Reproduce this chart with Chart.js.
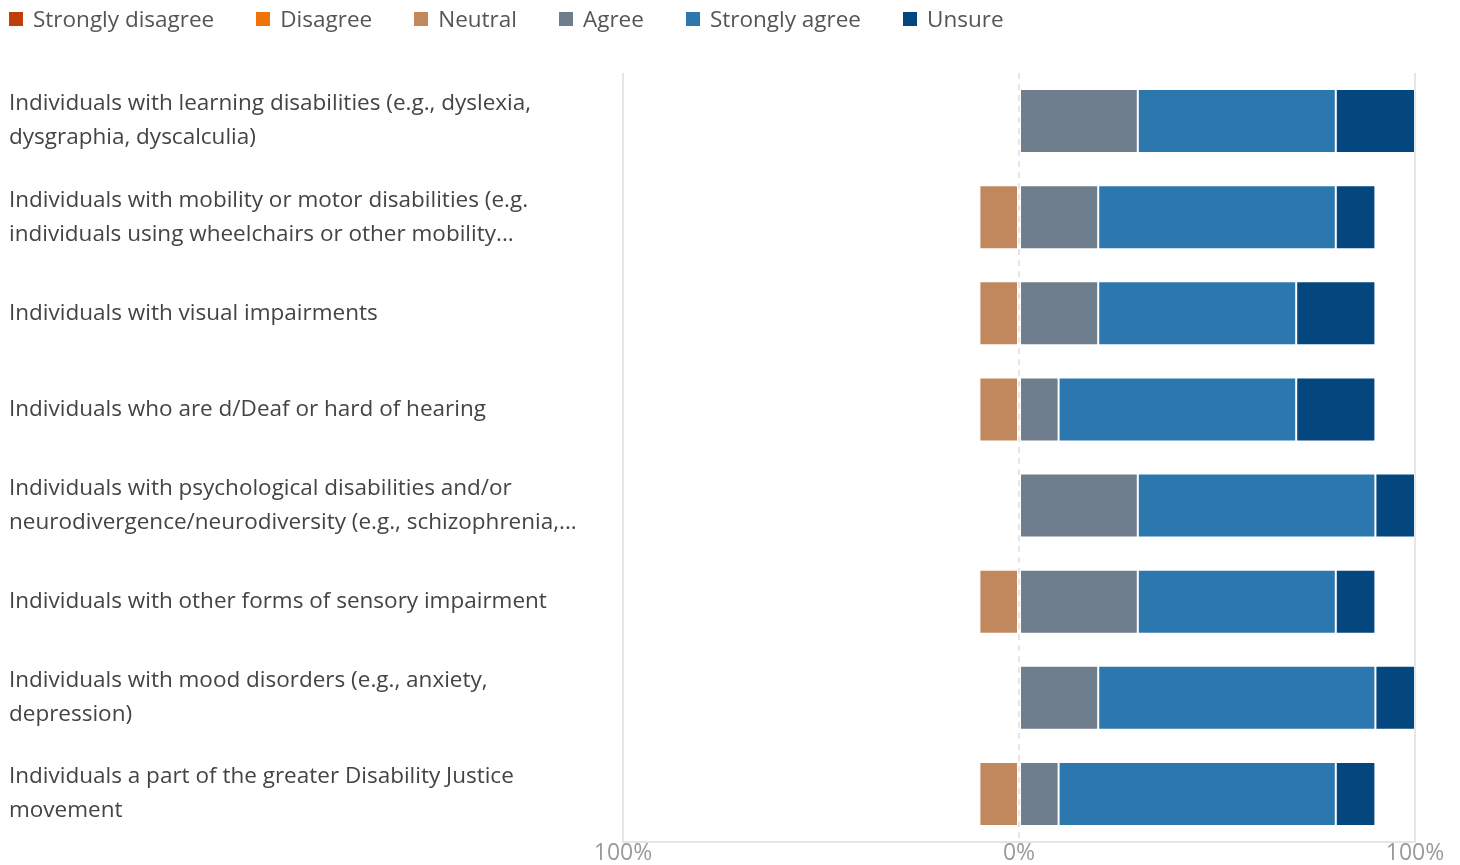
<!DOCTYPE html>
<html>
<head>
<meta charset="utf-8">
<script src="https://cdn.jsdelivr.net/npm/chart.js@4"></script>
<style>
  html, body { margin: 0; padding: 0; background: #fff; }
  #wrap { position: relative; width: 1460px; height: 865px; }
  #legend {
    position: absolute; left: 9px; top: 4px; display: flex;
    font-family: "Open Sans", sans-serif; font-size: 22.5px; color: #555;
  }
  #legend span.item { display: flex; align-items: center; margin-right: 42px; line-height: 30px; }
  #legend span.box { width: 14px; height: 14px; margin-right: 10px; display: inline-block; }
</style>
</head>
<body>
<div id="wrap">
  <div id="legend"></div>
  <canvas id="likert" width="1460" height="865"></canvas>
</div>
<script>
// Survey statements, wrapped as shown on the axis
const categories = [
  ['Individuals with learning disabilities (e.g., dyslexia,', 'dysgraphia, dyscalculia)'],
  ['Individuals with mobility or motor disabilities (e.g.', 'individuals using wheelchairs or other mobility...'],
  'Individuals with visual impairments',
  'Individuals who are d/Deaf or hard of hearing',
  ['Individuals with psychological disabilities and/or', 'neurodivergence/neurodiversity (e.g., schizophrenia,...'],
  'Individuals with other forms of sensory impairment',
  ['Individuals with mood disorders (e.g., anxiety,', 'depression)'],
  ['Individuals a part of the greater Disability Justice', 'movement']
];

// Percent of responses per statement
const stronglyDisagree = [0, 0, 0, 0, 0, 0, 0, 0];
const disagree         = [0, 0, 0, 0, 0, 0, 0, 0];
const neutral          = [0, 10, 10, 10, 0, 10, 0, 10];
const agree            = [30, 20, 20, 10, 30, 30, 20, 10];
const stronglyAgree    = [50, 60, 50, 60, 60, 50, 70, 70];
const unsure           = [20, 10, 20, 20, 10, 10, 10, 10];

const xTicks = [-100, 0, 100];

const colors = {
  stronglyDisagree: '#bf3f0b',
  disagree: '#ee7309',
  neutral: '#c0885c',
  agree: '#6f7e8d',
  stronglyAgree: '#2c78ae',
  unsure: '#03477e'
};

// negative side grows left from zero, positive side grows right
const series = [
  { label: 'Strongly disagree', data: stronglyDisagree, color: colors.stronglyDisagree, neg: true, order: 3 },
  { label: 'Disagree', data: disagree, color: colors.disagree, neg: true, order: 2 },
  { label: 'Neutral', data: neutral, color: colors.neutral, neg: true, order: 1 },
  { label: 'Agree', data: agree, color: colors.agree, neg: false, order: 4 },
  { label: 'Strongly agree', data: stronglyAgree, color: colors.stronglyAgree, neg: false, order: 5 },
  { label: 'Unsure', data: unsure, color: colors.unsure, neg: false, order: 6 }
];

// legend
const legendEl = document.getElementById('legend');
series.forEach(s => {
  const item = document.createElement('span');
  item.className = 'item';
  const box = document.createElement('span');
  box.className = 'box';
  box.style.background = s.color;
  item.appendChild(box);
  item.appendChild(document.createTextNode(s.label));
  legendEl.appendChild(item);
});

const datasets = series.map(s => ({
  label: s.label,
  data: s.data.map(v => s.neg ? -v : v),
  backgroundColor: s.color,
  borderColor: 'rgba(255,255,255,0.25)',
  borderWidth: 1,
  borderSkipped: false,
  order: s.order,
  barPercentage: 0.667,
  categoryPercentage: 1
}));

new Chart(document.getElementById('likert'), {
  type: 'bar',
  data: { labels: categories, datasets: datasets },
  options: {
    indexAxis: 'y',
    responsive: false,
    animation: false,
    layout: { padding: { left: 9, right: 45, top: 73, bottom: 0 } },
    plugins: {
      legend: { display: false },
      tooltip: { enabled: false }
    },
    scales: {
      x: {
        stacked: true,
        min: -100,
        max: 100,
        afterBuildTicks: axis => { axis.ticks = xTicks.map(v => ({ value: v })); },
        afterFit: axis => { axis.height = 23; },
        grid: {
          color: '#e6e6e6',
          lineWidth: 2,
          tickLength: 0
        },
        border: {
          display: true,
          color: '#e6e6e6',
          width: 2,
          dash: ctx => (ctx.tick && ctx.tick.value === 0) ? [6, 5] : []
        },
        ticks: {
          padding: 0,
          color: '#9a9a9a',
          font: { family: '"Open Sans", sans-serif', size: 23, lineHeight: 1 },
          callback: v => Math.abs(v) + '%'
        }
      },
      y: {
        stacked: true,
        grid: { display: false },
        border: { display: false },
        afterFit: axis => {
          axis.width = 614;
          // two-line labels would otherwise push the plot up from the bottom
          axis.paddingTop = 0;
          axis.paddingBottom = 0;
        },
        ticks: {
          crossAlign: 'far',
          color: '#444',
          font: { family: '"Open Sans", sans-serif', size: 22.5, lineHeight: '34px' }
        }
      }
    }
  }
});
</script>
</body>
</html>
